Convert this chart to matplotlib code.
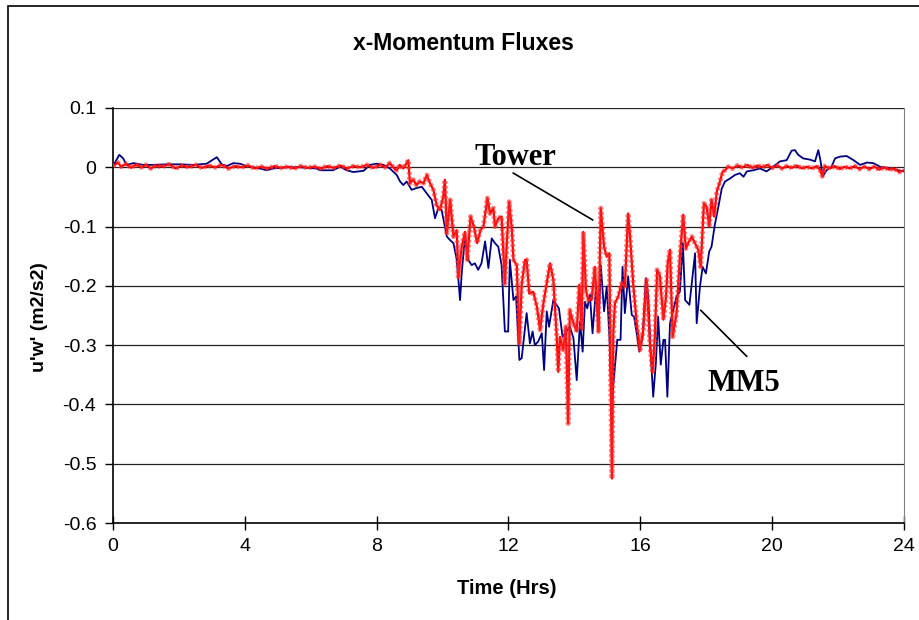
import numpy as np
import matplotlib
matplotlib.use('Agg')
import matplotlib.pyplot as plt
from matplotlib.patches import Rectangle

# MM5 model series (hours, u'w')
mm5_t = [0.00, 0.19, 0.31, 0.41, 0.62, 0.92, 1.22, 1.63, 2.03, 2.44, 2.84, 3.15, 3.30, 3.45,
         3.65, 3.85, 4.06, 4.46, 4.66, 4.86, 5.27, 5.67, 6.18, 6.28, 6.68, 6.89, 7.09, 7.29,
         7.60, 7.80, 8.00, 8.20, 8.40, 8.61, 8.71, 8.81, 8.91, 9.06, 9.21, 9.37, 9.52, 9.67,
         9.77, 9.87, 9.97, 10.07, 10.13, 10.23, 10.33, 10.43, 10.53, 10.58, 10.68, 10.78,
         10.88, 10.98, 11.08, 11.18, 11.29, 11.39, 11.49, 11.59, 11.69, 11.79, 11.89, 11.99,
         12.04, 12.15, 12.23, 12.33, 12.40, 12.55, 12.65, 12.73, 12.80, 12.90, 13.01, 13.08,
         13.16, 13.23, 13.36, 13.53, 13.64, 13.76, 13.86, 13.97, 14.07, 14.17, 14.25, 14.32,
         14.39, 14.47, 14.55, 14.66, 14.73, 14.80, 14.90, 14.98, 15.06, 15.13, 15.23, 15.30,
         15.40, 15.46, 15.53, 15.63, 15.74, 15.81, 15.89, 15.97, 16.07, 16.17, 16.24, 16.31,
         16.39, 16.47, 16.54, 16.62, 16.70, 16.75, 16.82, 16.90, 17.10, 17.20, 17.29, 17.36,
         17.49, 17.66, 17.71, 17.81, 17.89, 17.99, 18.09, 18.16, 18.26, 18.37, 18.47, 18.57,
         18.72, 18.87, 19.02, 19.13, 19.23, 19.43, 19.63, 19.83, 20.03, 20.24, 20.44, 20.59,
         20.69, 20.79, 20.94, 21.14, 21.30, 21.40, 21.47, 21.53, 21.65, 21.80, 21.91, 22.06,
         22.26, 22.47, 22.67, 22.87, 23.07, 23.27, 23.57, 24.00]
mm5_v = [0.002, 0.021, 0.015, 0.004, 0.007, 0.004, 0.004, 0.005, 0.005, 0.004, 0.006, 0.017,
         0.005, 0.002, 0.007, 0.006, 0.002, -0.002, -0.005, -0.002, 0.000, 0.000, -0.002,
         -0.005, -0.005, 0.001, -0.005, -0.008, -0.006, 0.004, 0.006, 0.004, -0.002, -0.013,
         -0.024, -0.030, -0.024, -0.038, -0.035, -0.033, -0.044, -0.055, -0.086, -0.069,
         -0.072, -0.100, -0.117, -0.123, -0.128, -0.156, -0.224, -0.179, -0.117, -0.156,
         -0.165, -0.162, -0.173, -0.162, -0.125, -0.170, -0.120, -0.128, -0.134, -0.165,
         -0.277, -0.277, -0.156, -0.224, -0.218, -0.325, -0.322, -0.246, -0.297, -0.277,
         -0.300, -0.294, -0.280, -0.342, -0.243, -0.269, -0.224, -0.238, -0.286, -0.277,
         -0.269, -0.288, -0.359, -0.260, -0.311, -0.227, -0.238, -0.215, -0.280, -0.201,
         -0.277, -0.165, -0.243, -0.201, -0.283, -0.400, -0.336, -0.291, -0.291, -0.168,
         -0.246, -0.184, -0.249, -0.252, -0.280, -0.311, -0.286, -0.187, -0.218, -0.308,
         -0.387, -0.331, -0.252, -0.333, -0.291, -0.291, -0.387, -0.263, -0.218, -0.210,
         -0.128, -0.224, -0.232, -0.145, -0.263, -0.201, -0.168, -0.179, -0.142, -0.134,
         -0.097, -0.066, -0.036, -0.024, -0.019, -0.013, -0.010, -0.016, -0.007, -0.005,
         -0.002, -0.007, 0.001, 0.010, 0.012, 0.028, 0.029, 0.021, 0.015, 0.013, 0.010,
         0.029, 0.010, -0.016, -0.005, 0.001, 0.015, 0.018, 0.019, 0.012, 0.004, 0.008,
         0.007, 0.001, -0.002, -0.007]

# Tower observations
tower_t = [0.00, 0.15, 0.25, 0.40, 0.55, 0.70, 0.85, 1.00, 1.15, 1.30, 1.50, 1.70, 1.90, 2.10,
           2.30, 2.50, 2.70, 2.90, 3.10, 3.30, 3.50, 3.70, 3.90, 4.10, 4.30, 4.50, 4.70, 4.90,
           5.10, 5.30, 5.50, 5.70, 5.90, 6.10, 6.30, 6.50, 6.70, 6.90, 7.10, 7.30, 7.50, 7.70,
           7.90, 8.10, 8.25, 8.40, 8.55, 8.61, 8.70, 8.81, 8.96, 9.01, 9.11, 9.21, 9.31, 9.42,
           9.52, 9.62, 9.72, 9.82, 9.92, 10.02, 10.07, 10.13, 10.23, 10.33, 10.43, 10.48, 10.58,
           10.68, 10.75, 10.85, 10.95, 11.05, 11.15, 11.24, 11.36, 11.44, 11.54, 11.59, 11.69,
           11.79, 11.89, 11.96, 12.02, 12.10, 12.15, 12.25, 12.33, 12.40, 12.50, 12.55, 12.63,
           12.75, 12.86, 12.96, 13.06, 13.16, 13.26, 13.36, 13.46, 13.51, 13.56, 13.66, 13.74,
           13.81, 13.86, 13.97, 14.07, 14.15, 14.22, 14.27, 14.35, 14.42, 14.52, 14.62, 14.73,
           14.80, 14.90, 14.98, 15.06, 15.10, 15.14, 15.18, 15.23, 15.33, 15.43, 15.53, 15.63,
           15.68, 15.79, 15.89, 15.99, 16.09, 16.19, 16.29, 16.37, 16.44, 16.51, 16.59, 16.70,
           16.78, 16.83, 16.90, 16.98, 17.10, 17.20, 17.30, 17.38, 17.45, 17.56, 17.66, 17.76,
           17.83, 17.93, 18.01, 18.09, 18.16, 18.24, 18.32, 18.40, 18.50, 18.57, 18.67, 18.80,
           18.95, 19.10, 19.25, 19.40, 19.55, 19.70, 19.85, 20.00, 20.15, 20.30, 20.45, 20.60,
           20.75, 20.90, 21.05, 21.20, 21.35, 21.45, 21.52, 21.60, 21.75, 21.90, 22.05, 22.20,
           22.35, 22.50, 22.65, 22.80, 22.95, 23.10, 23.25, 23.40, 23.55, 23.70, 23.85, 24.00]
tower_v = [0.002, 0.008, 0.001, 0.006, -0.001, 0.005, 0.000, 0.004, -0.002, 0.003, 0.001,
           0.005, -0.002, 0.003, 0.000, 0.004, -0.001, 0.003, 0.000, 0.004, -0.002, 0.002,
           0.000, 0.003, -0.002, 0.001, -0.002, 0.002, -0.001, 0.001, -0.002, 0.002, -0.001,
           0.001, -0.002, 0.002, -0.001, 0.003, -0.002, 0.002, 0.000, 0.004, -0.001, 0.004,
           0.000, 0.007, -0.003, -0.005, 0.004, -0.002, 0.012, -0.027, -0.021, -0.030, -0.024,
           -0.027, -0.013, -0.027, -0.038, -0.064, -0.072, -0.050, -0.021, -0.111, -0.055,
           -0.117, -0.106, -0.187, -0.134, -0.109, -0.156, -0.083, -0.100, -0.128, -0.106,
           -0.100, -0.052, -0.078, -0.069, -0.100, -0.086, -0.083, -0.196, -0.117, -0.058,
           -0.103, -0.156, -0.165, -0.297, -0.198, -0.156, -0.156, -0.213, -0.210, -0.235,
           -0.274, -0.229, -0.196, -0.162, -0.190, -0.283, -0.345, -0.286, -0.308, -0.269,
           -0.432, -0.241, -0.263, -0.277, -0.198, -0.274, -0.109, -0.207, -0.224, -0.224,
           -0.168, -0.277, -0.069, -0.134, -0.151, -0.145, -0.364, -0.525, -0.280, -0.229,
           -0.218, -0.196, -0.201, -0.078, -0.111, -0.201, -0.263, -0.308, -0.274, -0.190,
           -0.297, -0.347, -0.286, -0.173, -0.182, -0.257, -0.218, -0.162, -0.139, -0.286,
           -0.246, -0.150, -0.080, -0.137, -0.128, -0.117, -0.128, -0.140, -0.168, -0.061,
           -0.066, -0.100, -0.055, -0.083, -0.041, -0.027, -0.007, -0.005, 0.001, -0.002,
           0.003, 0.000, 0.004, -0.001, 0.003, 0.000, 0.004, -0.001, 0.003, -0.002, 0.002,
           -0.001, 0.003, -0.002, 0.001, -0.002, 0.002, -0.004, -0.015, 0.002, -0.002, 0.002,
           -0.003, 0.001, -0.002, 0.002, -0.003, 0.001, -0.003, 0.001, -0.004, 0.000, -0.004,
           -0.002, -0.008, -0.005]

x_ticks = [0, 4, 8, 12, 16, 20, 24]
y_ticks = [0.1, 0, -0.1, -0.2, -0.3, -0.4, -0.5, -0.6]
y_labels = ['0.1', '0', '-0.1', '-0.2', '-0.3', '-0.4', '-0.5', '-0.6']

plt.rcParams['font.family'] = ['Liberation Sans', 'DejaVu Sans']

fig = plt.figure(figsize=(9.19, 6.2), dpi=100)
ax = fig.add_axes([113 / 919, 1 - 523 / 620, 791 / 919, 415 / 620])

# outer chart border (left and top edges visible)
fig.patches.append(Rectangle((8 / 919, -0.1), 1.2, 1.1 - 6 / 620, transform=fig.transFigure,
                             fill=False, edgecolor='black', lw=1.2))

for yv in y_ticks[:-1]:
    ax.axhline(yv, color='#222222', lw=0.9, zorder=1)

ax.plot(mm5_t, mm5_v, color='#000080', lw=1.3, zorder=3)
ax.plot(tower_t, tower_v, color='#ff0000', lw=1.6, zorder=4)
ax.plot(tower_t, tower_v, color='#ff3030', lw=3.6, ls=(0, (0.5, 0.5)), alpha=0.6, zorder=4)

ax.set_xlim(0, 24)
ax.set_ylim(-0.6, 0.1)
ax.set_xticks(x_ticks)
ax.set_yticks(y_ticks)
ax.set_yticklabels(y_labels)
ax.tick_params(axis='x', direction='inout', length=10, width=1, labelsize=14, pad=6)
ax.tick_params(axis='y', direction='out', length=6, width=1, labelsize=14, pad=6)

ax.spines['top'].set_visible(False)
ax.spines['right'].set_color('#808080')
ax.spines['left'].set_linewidth(1.2)
ax.spines['bottom'].set_linewidth(1.2)

# annotations
ax.text(12.20, 0.004, 'Tower', family='Liberation Serif', fontweight='bold', fontsize=22,
        ha='center', va='baseline', zorder=5)
ax.annotate('', xy=(14.56, -0.089), xytext=(12.14, -0.0096),
            arrowprops=dict(arrowstyle='-', color='black', lw=1.2, shrinkA=0, shrinkB=0))
ax.text(19.14, -0.378, 'MM5', family='Liberation Serif', fontweight='bold', fontsize=22,
        ha='center', va='baseline', zorder=5)
ax.annotate('', xy=(17.83, -0.241), xytext=(19.23, -0.319),
            arrowprops=dict(arrowstyle='-', color='black', lw=1.2, shrinkA=0, shrinkB=0))

fig.text(463 / 919, 1 - 44 / 620, 'x-Momentum Fluxes', fontsize=16.5, fontweight='bold',
         ha='center', va='center')
fig.text(507 / 919, 1 - 588 / 620, 'Time (Hrs)', fontsize=14.5, fontweight='bold',
         ha='center', va='center')
fig.text(40 / 919, 1 - 317 / 620, "u'w' (m2/s2)", fontsize=14, fontweight='bold',
         ha='center', va='center', rotation=90)

fig.savefig('out.png', dpi=100)
